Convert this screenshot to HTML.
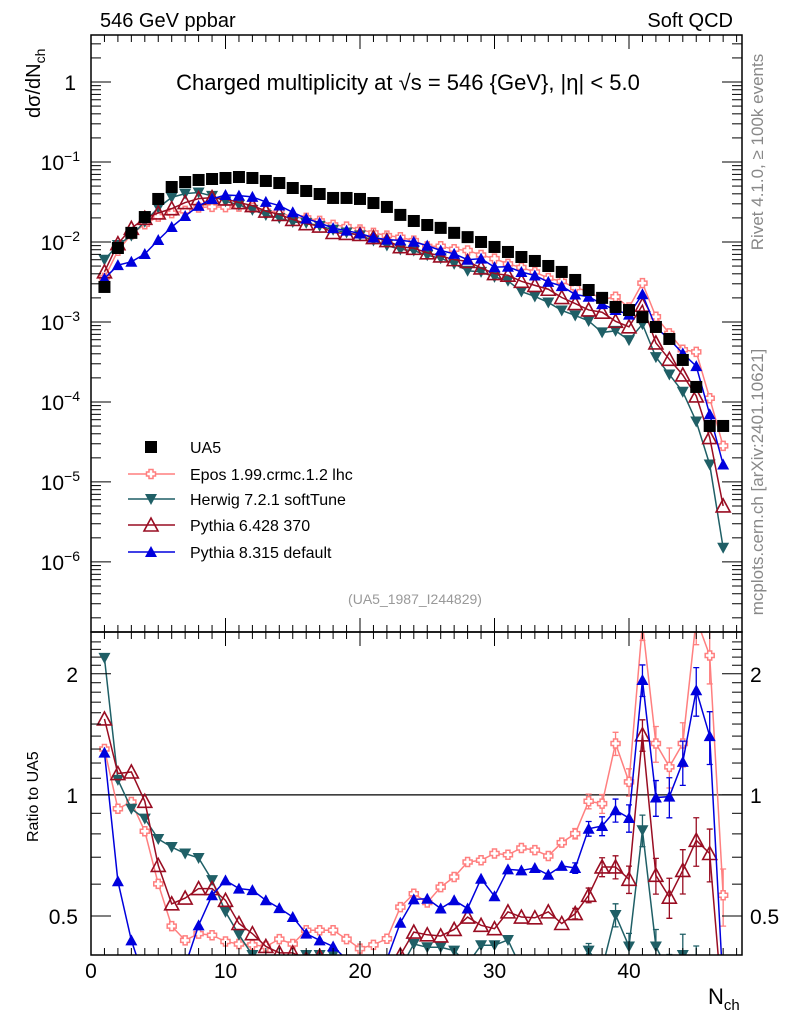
<!DOCTYPE html>
<html><head><meta charset="utf-8">
<style>
html,body{margin:0;padding:0;background:#fff;width:786px;height:1024px;overflow:hidden;}
svg{display:block;position:absolute;left:0;top:0;font-family:"Liberation Sans",sans-serif;}
</style></head>
<body>
<svg id="chart" width="786" height="1024" viewBox="0 0 786 1024" xmlns="http://www.w3.org/2000/svg">
<text x="100" y="27" font-size="20">546 GeV ppbar</text>
<text x="733" y="27" font-size="20" text-anchor="end">Soft QCD</text>
<text x="408" y="90" font-size="22" text-anchor="middle">Charged multiplicity at √s = 546 {GeV}, |η| &lt; 5.0</text>
<text x="415" y="604" font-size="14" fill="#999" text-anchor="middle">(UA5_1987_I244829)</text>
<text transform="translate(763,152) rotate(-90)" font-size="17" fill="#888" text-anchor="middle">Rivet 4.1.0, ≥ 100k events</text>
<text transform="translate(763,482) rotate(-90)" font-size="17" fill="#888" text-anchor="middle">mcplots.cern.ch [arXiv:2401.10621]</text>
<text transform="translate(40,118) rotate(-90)" font-size="20">dσ/dN<tspan font-size="14" dy="5">ch</tspan></text>
<text transform="translate(38,842) rotate(-90)" font-size="16">Ratio to UA5</text>
<text x="708" y="1004" font-size="22">N<tspan font-size="15" dy="6">ch</tspan></text>
<defs>
<clipPath id="cm"><rect x="91" y="35" width="651" height="597"/></clipPath>
<clipPath id="cr"><rect x="91" y="632" width="651" height="323"/></clipPath>
</defs>
<g id="main" clip-path="url(#cm)"></g>
<g id="ratio" clip-path="url(#cr)"></g>
<g id="axes"></g>
<g id="legend"></g>
</svg>
<script>
const nch = [];
for (let n = 1; n <= 47; n++) nch.push(n);
const ua5 = [2.74e-3,8.41e-3,1.30e-2,2.05e-2,3.45e-2,4.87e-2,5.62e-2,5.96e-2,6.13e-2,6.31e-2,6.49e-2,6.31e-2,5.79e-2,5.46e-2,4.73e-2,4.34e-2,3.98e-2,3.55e-2,3.55e-2,3.45e-2,3.07e-2,2.74e-2,2.18e-2,1.83e-2,1.63e-2,1.50e-2,1.30e-2,1.15e-2,1.00e-2,8.66e-3,7.50e-3,6.49e-3,5.79e-3,5.01e-3,4.22e-3,3.35e-3,2.51e-3,2.00e-3,1.54e-3,1.41e-3,1.15e-3,8.66e-4,6.13e-4,3.35e-4,1.54e-4,5.01e-5,5.01e-5];
const ratioEpos = [1.30,0.924,0.96,0.812,0.601,0.472,0.435,0.452,0.448,0.432,0.426,0.424,0.42,0.438,0.426,0.461,0.461,0.461,0.438,0.415,0.424,0.439,0.526,0.568,0.54,0.59,0.625,0.681,0.688,0.715,0.71,0.738,0.729,0.705,0.761,0.801,0.964,0.951,1.342,1.077,2.66,1.342,1.174,1.342,2.74,2.22,0.563];
const ratioHerwig = [2.19,1.09,0.924,0.873,0.777,0.742,0.715,0.697,0.614,0.512,0.449,0.40,0.376,0.365,0.376,0.40,0.40,0.40,0.37,0.35,0.34,0.33,0.37,0.426,0.418,0.418,0.41,0.38,0.423,0.423,0.436,0.37,0.36,0.35,0.33,0.36,0.41,0.37,0.503,0.42,0.817,0.42,0.36,0.40,0.37,0.33,0.03];
const ratioPy6 = [1.544,1.13,1.14,0.964,0.668,0.536,0.554,0.585,0.585,0.547,0.479,0.452,0.42,0.405,0.405,0.39,0.397,0.37,0.36,0.36,0.37,0.38,0.40,0.456,0.449,0.446,0.463,0.497,0.474,0.465,0.512,0.497,0.495,0.512,0.479,0.507,0.563,0.662,0.662,0.617,1.41,0.631,0.557,0.649,0.771,0.715,0.10];
const ratioPy8 = [1.274,0.61,0.435,0.345,0.307,0.316,0.376,0.474,0.563,0.613,0.585,0.58,0.547,0.523,0.497,0.452,0.435,0.42,0.39,0.37,0.37,0.39,0.481,0.55,0.552,0.522,0.547,0.522,0.619,0.56,0.653,0.649,0.658,0.633,0.666,0.658,0.824,0.837,0.916,0.876,1.93,0.985,0.99,1.208,1.82,1.40,0.33];
const xTicks = [0,10,20,30,40];
const yDecades = [0,-1,-2,-3,-4,-5,-6];
const ratioTicks = [0.5,1,2];

const X0=91, X1=742, XMIN=0, XMAX=(742-91)/13.45;
const MT=35, MB=632, RT=632, RB=955;
const LMIN=Math.log10(1.33e-7), LMAX=Math.log10(3.87);
const RLMIN=Math.log10(0.40), RLMAX=Math.log10(2.54);
const clamp=(y,a,b)=>Math.min(Math.max(y,a),b);
const sx = v => X0 + (v-XMIN)/(XMAX-XMIN)*(X1-X0);
const sy = v => clamp(MB - (Math.log10(Math.max(v,1e-12))-LMIN)/(LMAX-LMIN)*(MB-MT), MT-20, MB+60);
const sr = v => clamp(RB - (Math.log10(Math.max(v,1e-6))-RLMIN)/(RLMAX-RLMIN)*(RB-RT), RT-40, RB+60);
const NS='http://www.w3.org/2000/svg';
function mk(tag, attrs, parent){const e=document.createElementNS(NS,tag);for(const k in attrs)e.setAttribute(k,attrs[k]);parent.appendChild(e);return e;}
const gMain=document.getElementById('main'), gRatio=document.getElementById('ratio'), gAxes=document.getElementById('axes'), gLeg=document.getElementById('legend');

function marker(type,color,x,y,parent,s){
  let e;
  if(type==='square'){e=mk('rect',{x:x-6,y:y-6,width:12,height:12,fill:color},parent);}
  else if(type==='cross'){const a=2,b=4.5;
    e=mk('path',{d:`M${x-a},${y-b}h${2*a}v${b-a}h${b-a}v${2*a}h${-(b-a)}v${b-a}h${-2*a}v${-(b-a)}h${-(b-a)}v${-2*a}h${b-a}z`,fill:'#fff',stroke:color,'stroke-width':1.5},parent);}
  else if(type==='down'){e=mk('path',{d:`M${x-6},${y-5}L${x+6},${y-5}L${x},${y+6}z`,fill:color},parent);}
  else if(type==='upopen'){e=mk('path',{d:`M${x-7},${y+6}L${x+7},${y+6}L${x},${y-7}z`,fill:'none',stroke:color,'stroke-width':1.6},parent);}
  else {e=mk('path',{d:`M${x-6},${y+5}L${x+6},${y+5}L${x},${y-6}z`,fill:color},parent);}
  return e;
}
const models=[
 {name:'Epos 1.99.crmc.1.2 lhc',r:ratioEpos,c:'#ff7f7f',m:'cross',id:'epos'},
 {name:'Herwig 7.2.1 softTune',r:ratioHerwig,c:'#1f5f66',m:'down',id:'herwig'},
 {name:'Pythia 6.428 370',r:ratioPy6,c:'#990d22',m:'upopen',id:'pythia6'},
 {name:'Pythia 8.315 default',r:ratioPy8,c:'#0000dd',m:'up',id:'pythia8'}
];
const rl=mk('line',{x1:X0,x2:X1,y1:sr(1),y2:sr(1),stroke:'#000','stroke-width':1.2},gRatio);


models.forEach(md=>{
  const vals=md.r.map((r,i)=>r*ua5[i]);
  const pm=mk('polyline',{points:nch.map((n,i)=>sx(n)+','+sy(vals[i])).join(' '),fill:'none',stroke:md.c,'stroke-width':1.5},gMain);
  
  
  const pr=mk('polyline',{points:nch.map((n,i)=>sx(n)+','+sr(md.r[i])).join(' '),fill:'none',stroke:md.c,'stroke-width':1.5},gRatio);
  
  
  nch.forEach((n,i)=>{
    if(n>=36){const er=md.r[i]*(0.03+0.012*(n-36));
      const yt=sr(md.r[i]+er), yb=sr(Math.max(md.r[i]-er,0.01));
      const eb=mk('path',{d:`M${sx(n)},${yt}V${yb}M${sx(n)-3},${yt}h6M${sx(n)-3},${yb}h6`,stroke:md.c,'stroke-width':1.3,fill:'none'},gRatio);
      
      }
    const a=marker(md.m,md.c,sx(n),sy(vals[i]),gMain,5);
    
    
    const b=marker(md.m,md.c,sx(n),sr(md.r[i]),gRatio,5);
    
    
  });
});
nch.forEach((n,i)=>{
  const p=marker('square','#000',sx(n),sy(ua5[i]),gMain);
  
  
});
[[MT,MB],[RT,RB]].forEach((f,k)=>{
  const r=mk('rect',{x:X0,y:f[0],width:X1-X0,height:f[1]-f[0],fill:'none',stroke:'#000','stroke-width':1.5},gAxes);
  
  
});
for(let v=0;v<=48;v++){
  const x=sx(v), L=(v%10===0)?14:7;
  [[MT,1],[MB,-1],[RT,1],[RB,-1]].forEach(([y,d])=>{
    const t=mk('line',{x1:x,x2:x,y1:y,y2:y+d*L,stroke:'#000','stroke-width':1},gAxes);
    
    
  });
}
xTicks.forEach(v=>{
  const t=mk('text',{x:sx(v),y:978,'font-size':21,'text-anchor':'middle'},gAxes);
  t.textContent=v;
  
  
});
for(let d=-7;d<=0;d++){
  for(let m=1;m<10;m++){
    const v=m*Math.pow(10,d);
    const yy=MB - (Math.log10(v)-LMIN)/(LMAX-LMIN)*(MB-MT);
    if(yy<MT||yy>MB)continue;
    const L=m===1?20:10;
    const a=mk('line',{x1:X0,x2:X0+L,y1:yy,y2:yy,stroke:'#000'},gAxes);
    
    
    const b=mk('line',{x1:X1,x2:X1-L,y1:yy,y2:yy,stroke:'#000'},gAxes);
    
    
  }
}
yDecades.forEach(d=>{
  const y=sy(Math.pow(10,d));
  const t=mk('text',{x:d===0?76:80,y:y+8,'font-size':21,'text-anchor':'end'},gAxes);
  if(d===0){t.textContent='1';}
  else{t.textContent='10';const s=mk('tspan',{'font-size':14,dy:-9},t);s.textContent=String(d).replace('-','−');}
  
  
});
for(let v=0.4;v<=2.5;v+=0.1){
  const y=sr(v);if(y<RT||y>RB)continue;
  const major=Math.abs(v-0.5)<1e-6||Math.abs(v-1)<1e-6||Math.abs(v-2)<1e-6;
  const L=major?20:10;
  const a=mk('line',{x1:X0,x2:X0+L,y1:y,y2:y,stroke:'#000'},gAxes);
  
  
  const b=mk('line',{x1:X1,x2:X1-L,y1:y,y2:y,stroke:'#000'},gAxes);
  
  
}
ratioTicks.forEach(v=>{
  const y=sr(v);
  const a=mk('text',{x:78,y:y+8,'font-size':21,'text-anchor':'end'},gAxes);
  a.textContent=v;
  
  
  const b=mk('text',{x:750,y:y+8,'font-size':21},gAxes);
  b.textContent=v;
  
  
});
const legY=[447,474,499,525,552];
const entries=[{name:'UA5',c:'#000',m:'square',id:'ua5'}].concat(models);
entries.forEach((e,i)=>{
  const g=mk('g',{},gLeg);
  
  
  if(i>0){mk('line',{x1:128,x2:175,y1:legY[i],y2:legY[i],stroke:e.c,'stroke-width':1.5},g);}
  marker(e.m,e.c,151,legY[i],g,5);
  const t=mk('text',{x:190,y:legY[i]+6,'font-size':16},g);
  t.textContent=e.name;
});
</script>
</body></html>
